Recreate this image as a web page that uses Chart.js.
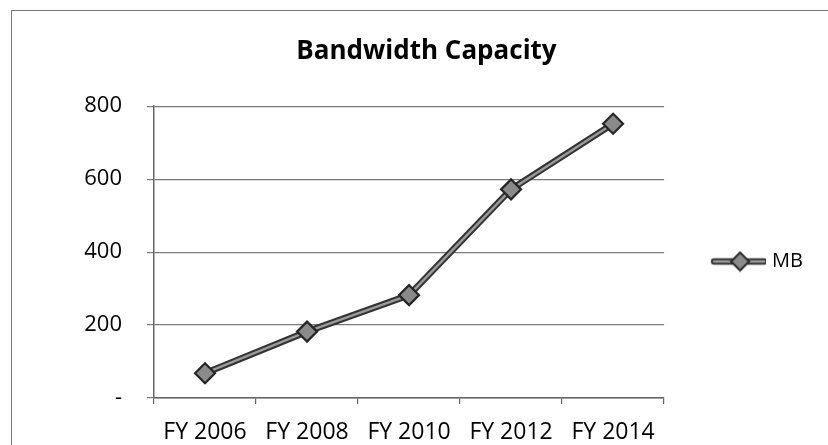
<!DOCTYPE html>
<html>
<head>
<meta charset="utf-8">
<script src="https://cdn.jsdelivr.net/npm/chart.js@4.4.1/dist/chart.umd.min.js"></script>
<style>
  html, body { margin: 0; padding: 0; background: #fff; overflow: hidden; }
  #wrap { position: relative; width: 828px; height: 445px; }
  #frame { position: absolute; left: 11px; top: 10px; width: 830px; height: 450px;
           border: 1.5px solid #777; box-sizing: border-box; }
  canvas { position: absolute; left: 0; top: 0; }
</style>
</head>
<body>
<div id="wrap">
  <div id="frame"></div>
  <canvas id="chart" width="828" height="445"></canvas>
</div>
<script>
const chartTitle = 'Bandwidth Capacity';
const years = ['FY 2006', 'FY 2008', 'FY 2010', 'FY 2012', 'FY 2014'];
const seriesName = 'MB';
const mbValues = [68, 182, 282, 572, 752];
const yTicks = [0, 200, 400, 600, 800];

const font = 'Open Sans';

// small icon for the legend: line with a diamond
function legendIcon() {
  const c = document.createElement('canvas');
  c.width = 96; c.height = 22;
  const g = c.getContext('2d');
  g.lineCap = 'round';
  g.strokeStyle = '#333'; g.lineWidth = 6.5;
  g.beginPath(); g.moveTo(44, 11); g.lineTo(94, 11); g.stroke();
  g.strokeStyle = '#9a9a9a'; g.lineWidth = 2.5;
  g.beginPath(); g.moveTo(44, 11); g.lineTo(94, 11); g.stroke();
  g.fillStyle = '#8c8c8c'; g.strokeStyle = '#2a2a2a'; g.lineWidth = 2;
  g.beginPath();
  g.moveTo(70, 2); g.lineTo(79, 11); g.lineTo(70, 20); g.lineTo(61, 11); g.closePath();
  g.fill(); g.stroke();
  return c;
}
const icon = legendIcon();

new Chart(document.getElementById('chart'), {
  type: 'line',
  data: {
    labels: years,
    datasets: [
      {
        label: seriesName,
        data: mbValues,
        borderColor: '#9a9a9a',
        borderWidth: 2.5,
        pointStyle: 'rectRot',
        pointRadius: 10,
        pointBackgroundColor: '#8a8a8a',
        pointBorderColor: '#262626',
        pointBorderWidth: 2.2,
        tension: 0,
        order: 1
      },
      {
        label: seriesName + ' outline',
        data: mbValues,
        borderColor: '#333',
        borderWidth: 6.5,
        pointRadius: 0,
        tension: 0,
        order: 2
      }
    ]
  },
  options: {
    responsive: false,
    animation: false,
    // negative bottom padding pushes the right-hand legend down to the reference position
    layout: { padding: { left: 40, right: 15, top: 10, bottom: -68 } },
    plugins: {
      title: {
        display: true,
        text: chartTitle,
        color: '#000',
        font: { family: font, size: 26, weight: 'bold' },
        padding: { top: 26, bottom: 39 }
      },
      legend: {
        position: 'right',
        labels: {
          usePointStyle: true,
          pointStyleWidth: 88,
          color: '#000',
          font: { family: font, size: 20 },
          generateLabels: () => [{
            text: seriesName, pointStyle: icon, datasetIndex: 0,
            hidden: false, lineWidth: 0, fillStyle: 'transparent', strokeStyle: 'transparent'
          }]
        }
      },
      tooltip: { enabled: false }
    },
    scales: {
      x: {
        offset: true,
        grid: { offset: true, drawOnChartArea: false, drawTicks: true, tickLength: 6, color: '#666', lineWidth: 1.2 },
        border: { display: true, color: '#666', width: 1.5 },
        ticks: { color: '#000', font: { family: font, size: 23 }, padding: 15, maxRotation: 0, autoSkip: false },
        afterFit: s => { s.height = 115; }
      },
      y: {
        min: 0,
        max: 800,
        afterBuildTicks: s => { s.ticks = yTicks.map(v => ({ value: v })); },
        grid: { color: '#7a7a7a', lineWidth: 1.2, tickLength: 7 },
        border: { display: true, color: '#666', width: 1.5 },
        ticks: {
          color: '#000',
          font: { family: font, size: 22 },
          padding: 25,
          callback: v => v === 0 ? '-' : String(v)
        },
        afterFit: s => { s.width = 114; }
      }
    }
  }
});
</script>
</body>
</html>
